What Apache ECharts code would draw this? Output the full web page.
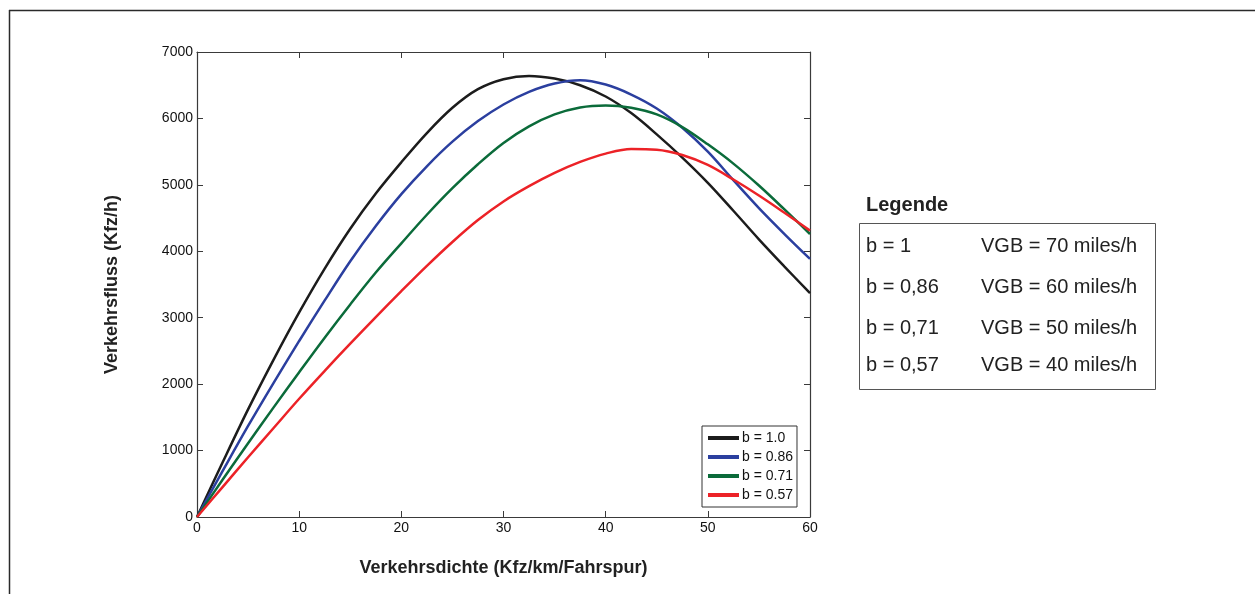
<!DOCTYPE html>
<html>
<head>
<meta charset="utf-8">
<script src="https://cdn.jsdelivr.net/npm/echarts@6/dist/echarts.min.js"></script>
<style>
html,body{margin:0;padding:0;background:#fff;}
#chart{width:1255px;height:594px;}
</style>
</head>
<body>
<div id="chart"></div>
<script>
// Verkehrsdichte (Kfz/km/Fahrspur)
var density = [0,2.5,5,7.5,10,12.5,15,17.5,20,22.5,25,27.5,30,32.5,35,37.5,40,42.5,45,47.5,50,52.5,55,57.5,60];
// Verkehrsfluss (Kfz/h)
var flowB100 = [0,820,1620,2370,3080,3740,4340,4870,5340,5780,6160,6440,6590,6640,6600,6500,6330,6080,5760,5410,5030,4610,4180,3770,3370];
var flowB086 = [0,690,1370,2020,2650,3260,3850,4380,4860,5280,5650,5960,6210,6400,6525,6575,6510,6360,6150,5860,5500,5070,4650,4260,3885];
var flowB071 = [0,560,1110,1650,2180,2700,3200,3680,4120,4550,4950,5310,5630,5880,6060,6165,6195,6160,6060,5870,5610,5320,4990,4630,4260];
var flowB057 = [0,450,900,1340,1780,2200,2610,3010,3400,3780,4140,4470,4750,4980,5180,5345,5470,5540,5530,5450,5300,5080,4840,4580,4311];

var seriesNames = ['b = 1.0','b = 0.86','b = 0.71','b = 0.57'];
var seriesColors = ['#1c1c1c','#2b3f9f','#0b6b3a','#ec2227'];
var seriesFlows = [flowB100, flowB086, flowB071, flowB057];

var xTitle = 'Verkehrsdichte (Kfz/km/Fahrspur)';
var yTitle = 'Verkehrsfluss (Kfz/h)';

var legendTitle = 'Legende';
var legendB = ['b = 1','b = 0,86','b = 0,71','b = 0,57'];
var legendVGB = ['VGB = 70 miles/h','VGB = 60 miles/h','VGB = 50 miles/h','VGB = 40 miles/h'];

var FONT = "'Liberation Sans', Arial, Helvetica, sans-serif";
var axisCol = '#3a3a3a';

function pairs(xs, ys){ return xs.map(function(x,i){ return [x, ys[i]]; }); }

var series = seriesNames.map(function(n, i){
  return {
    name: n, type: 'line', xAxisIndex: 0, yAxisIndex: 0,
    data: pairs(density, seriesFlows[i]),
    smooth: 0.35, showSymbol: false, symbol: 'none',
    color: seriesColors[i],
    lineStyle: {color: seriesColors[i], width: 2.5},
    itemStyle: {color: seriesColors[i]},
    emphasis: {disabled: true},
    z: 3
  };
});

var rowY = [246, 287, 328, 365];
var graphics = [
  {type:'line', shape:{x1:9, y1:10.5, x2:1255, y2:10.5}, style:{stroke:'#2a2a2a', lineWidth:1.5}, silent:true},
  {type:'line', shape:{x1:9.5, y1:10, x2:9.5, y2:594}, style:{stroke:'#2a2a2a', lineWidth:1.5}, silent:true},
  {type:'text', x:866, y:205, style:{text:legendTitle, font:'bold 20px ' + FONT, fill:'#222', verticalAlign:'middle'}, silent:true},
  {type:'rect', shape:{x:859.5, y:223.5, width:296, height:166}, style:{fill:'#fff', stroke:'#555', lineWidth:1}, silent:true}
];
legendB.forEach(function(t, i){
  graphics.push({type:'text', x:866, y:rowY[i], style:{text:t, font:'20px ' + FONT, fill:'#222', verticalAlign:'middle'}, silent:true, z:10});
  graphics.push({type:'text', x:981, y:rowY[i], style:{text:legendVGB[i], font:'20px ' + FONT, fill:'#222', verticalAlign:'middle'}, silent:true, z:10});
});

var commonTick = {show:true, inside:true, length:6, lineStyle:{color:axisCol, width:1}};
var commonLine = {show:true, onZero:false, lineStyle:{color:axisCol, width:1.2}};
var plainNum = function(v){ return String(v); };

var option = {
  animation: false,
  backgroundColor: '#fff',
  grid: {left:197, top:52, right:445, bottom:77, containLabel:false},
  xAxis: [
    {type:'value', min:0, max:60, interval:10, position:'bottom',
     axisLine: commonLine, axisTick: commonTick, splitLine:{show:false},
     axisLabel:{fontSize:14, color:'#111', fontFamily:FONT, margin:4, formatter:plainNum},
     name: xTitle, nameLocation:'middle', nameGap:42,
     nameTextStyle:{fontSize:18, fontWeight:'bold', color:'#222', fontFamily:FONT}},
    {type:'value', min:0, max:60, interval:10, position:'top',
     axisLine: commonLine, axisTick: commonTick, splitLine:{show:false},
     axisLabel:{show:false}}
  ],
  yAxis: [
    {type:'value', min:0, max:7000, interval:1000, position:'left',
     axisLine: commonLine, axisTick: commonTick, splitLine:{show:false},
     axisLabel:{fontSize:14, color:'#111', fontFamily:FONT, margin:4, formatter:plainNum},
     name: yTitle, nameLocation:'middle', nameGap:76,
     nameTextStyle:{fontSize:18, fontWeight:'bold', color:'#222', fontFamily:FONT}},
    {type:'value', min:0, max:7000, interval:1000, position:'right',
     axisLine: commonLine, axisTick: commonTick, splitLine:{show:false},
     axisLabel:{show:false}}
  ],
  legend: {
    data: seriesNames, orient:'vertical', left:702, top:426,
    icon:'rect', itemWidth:31, itemHeight:4, itemGap:5,
    padding:[5,4,5,6], backgroundColor:'#fff',
    borderColor:'#333', borderWidth:1, borderRadius:0,
    textStyle:{fontSize:14, color:'#111', fontFamily:FONT, lineHeight:14, padding:[0,0,0,-2]},
    selectedMode:false, z:10
  },
  series: series,
  graphic: graphics
};

var chart = echarts.init(document.getElementById('chart'), null, {renderer:'canvas'});
chart.setOption(option);
</script>
</body>
</html>
